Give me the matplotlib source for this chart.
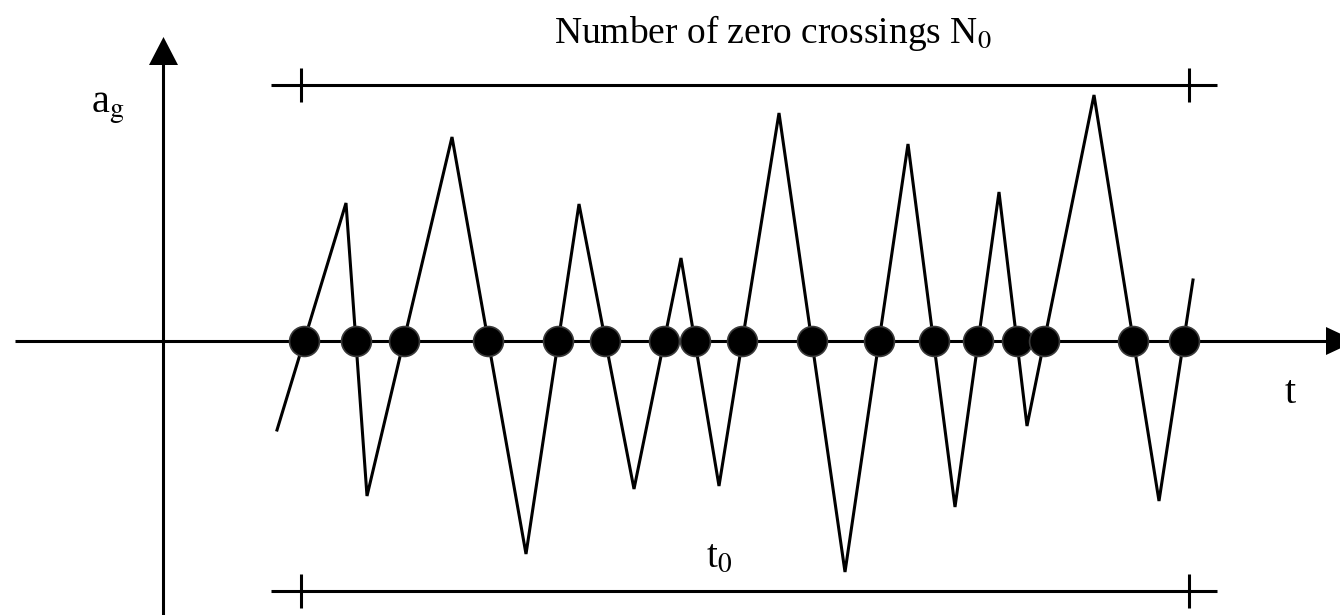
import numpy as np
import matplotlib
matplotlib.use("Agg")
import matplotlib.pyplot as plt

plt.rcParams['font.family'] = ['Liberation Serif', 'DejaVu Serif']
plt.rcParams['mathtext.fontset'] = 'stix'

# zigzag ground-acceleration record (time, amplitude)
t_pts = [277, 346, 367, 452, 526, 579, 634, 681, 719, 779, 845, 908, 955, 999, 1027, 1094, 1159, 1193]
a_pts = [-89, 138, -155, 204, -213, 137, -148, 83, -145, 228, -231, 197, -166, 149, -85, 246, -160, 61]

# window over which crossings are counted
t_start, t_end = 301, 1189
top_level, bottom_level = 256, -250

t_pts = np.array(t_pts, dtype=float)
a_pts = np.array(a_pts, dtype=float)

# zero crossings by linear interpolation between neighbouring vertices
cross = []
for i in range(len(t_pts) - 1):
    a0, a1 = a_pts[i], a_pts[i + 1]
    if a0 * a1 < 0:
        cross.append(t_pts[i] + (0 - a0) / (a1 - a0) * (t_pts[i + 1] - t_pts[i]))
cross = np.array(cross)

fig = plt.figure(figsize=(13.4, 6.15), dpi=100)
ax = fig.add_axes([0, 0, 1, 1])
ax.set_xlim(0, 1340)
ax.set_ylim(-274, 341)
ax.axis('off')

lw = 2.2

# coordinate axes with arrow heads
ax.plot([15, 1330], [0, 0], color='black', lw=lw, solid_capstyle='butt')
ax.fill([1326, 1326, 1356], [-14, 14, 0], color='black', lw=0)
ax.plot([163, 163], [-274, 280], color='black', lw=lw, solid_capstyle='butt')
ax.fill([149, 178, 163.5], [276, 276, 304], color='black', lw=0)

# signal
ax.plot(t_pts, a_pts, color='black', lw=lw, solid_joinstyle='miter')

# crossing markers
ax.plot(cross, np.zeros_like(cross), 'o', ms=21.5, mfc='black', mec='#3a3a3a', mew=1.2)

# dimension lines above and below
for lev in (top_level, bottom_level):
    ax.plot([271, 1217], [lev, lev], color='black', lw=lw, solid_capstyle='butt')
    for tx in (t_start, t_end):
        ax.plot([tx, tx], [lev - 17, lev + 17], color='black', lw=lw, solid_capstyle='butt')

ax.text(773, 298, 'Number of zero crossings N$_0$', fontsize=27, ha='center', va='baseline')
ax.text(91, 228, 'a$_\\mathrm{g}$', fontsize=29, ha='left', va='baseline')
ax.text(1290, -62, 't', fontsize=29, ha='center', va='baseline')
ax.text(706, -226, 't$_0$', fontsize=28, ha='left', va='baseline')

fig.savefig('out.png', dpi=100)
